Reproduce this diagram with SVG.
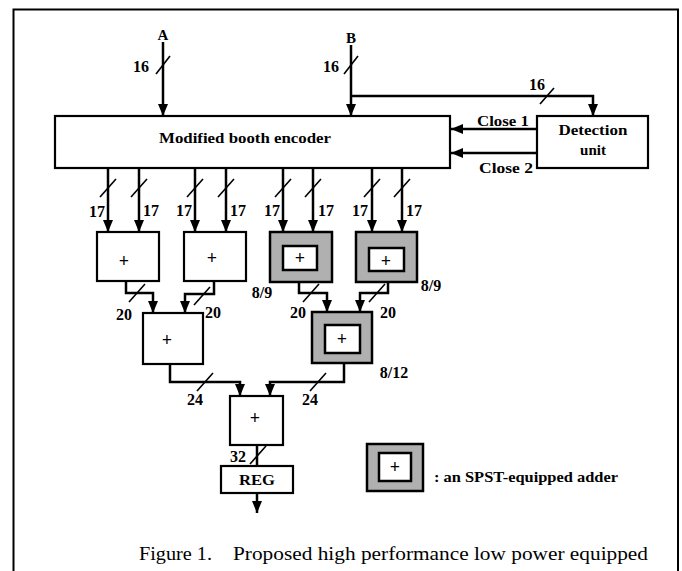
<svg xmlns="http://www.w3.org/2000/svg" width="682" height="571" viewBox="0 0 682 571">
<style>
.box{fill:#fff;stroke:#000;stroke-width:2.2}
.spst{fill:#b0b0b0;stroke:#000;stroke-width:2.5}
.inner{fill:#fff;stroke:#000;stroke-width:2.5}
.w{fill:none;stroke:#000;stroke-width:2.5}
.sl{stroke:#000;stroke-width:1.6}
.t{font-family:"Liberation Serif",serif;font-weight:bold;font-size:15px;fill:#000}
.lb{font-family:"Liberation Serif",serif;font-weight:bold;font-size:16px;fill:#000;text-anchor:middle}
.pl{font-family:"Liberation Serif",serif;font-weight:bold;font-size:18px;fill:#000;text-anchor:middle}
.cap{font-family:"Liberation Serif",serif;font-size:19px;fill:#000}
</style>
<defs>
<marker id="ah" markerUnits="userSpaceOnUse" markerWidth="12" markerHeight="10" refX="12" refY="5" orient="auto" viewBox="0 0 12 10">
<path d="M0,0 L12,5 L0,10 z" fill="#000"/>
</marker>
</defs>
<rect width="682" height="571" fill="#fff"/>
<path d="M13.5,571 V9.5 H678 V571" fill="none" stroke="#000" stroke-width="2"/>

<g id="encoder"><rect class="box" x="55" y="116" width="395" height="52"/>
<text class="t" x="245" y="143" text-anchor="middle" font-size="17" textLength="172" lengthAdjust="spacingAndGlyphs">Modified booth encoder</text></g>
<g id="detection"><rect class="box" x="537" y="116" width="111" height="52"/>
<text class="t" x="593" y="135" text-anchor="middle" textLength="69" lengthAdjust="spacingAndGlyphs">Detection</text>
<text class="t" x="593" y="155" text-anchor="middle">unit</text></g>

<g id="add1"><rect class="box" x="97" y="232" width="62" height="49"/><text class="pl" x="124" y="267">+</text></g>
<g id="add2"><rect class="box" x="184" y="232" width="62" height="49"/><text class="pl" x="212" y="264">+</text></g>
<g id="add3"><rect class="spst" x="270" y="232" width="62" height="50"/><rect class="inner" x="283" y="246" width="34" height="24"/><text class="pl" x="300" y="264">+</text></g>
<g id="add4"><rect class="spst" x="356" y="232" width="61" height="50"/><rect class="inner" x="369" y="248" width="35" height="23"/><text class="pl" x="386" y="267">+</text></g>
<g id="add5"><rect class="box" x="143" y="313" width="60" height="51"/><text class="pl" x="167" y="346">+</text></g>
<g id="add6"><rect class="spst" x="312" y="312" width="60" height="51"/><rect class="inner" x="325" y="325" width="35" height="28"/><text class="pl" x="342" y="345">+</text></g>
<g id="add7"><rect class="box" x="230" y="396" width="53" height="49"/><text class="pl" x="255" y="424">+</text></g>
<g id="reg"><rect class="box" x="221" y="466" width="72" height="27"/><text class="t" x="257" y="485" text-anchor="middle" textLength="36" lengthAdjust="spacingAndGlyphs">REG</text></g>
<g id="legend"><rect class="spst" x="367" y="444" width="56" height="47"/><rect class="inner" x="379" y="453" width="32" height="28"/><text class="pl" x="395" y="473" font-size="15" font-weight="normal">+</text>
<text class="t" x="434" y="482" textLength="184" lengthAdjust="spacingAndGlyphs">: an SPST-equipped adder</text></g>

<g id="connectors">
<path class="w" d="M163,42 V116" marker-end="url(#ah)"/>
<path class="w" d="M351,45 V116" marker-end="url(#ah)"/>
<path class="w" d="M351,96 H593 V116" marker-end="url(#ah)"/>
<path class="w" d="M537,129 H451" marker-end="url(#ah)"/>
<path class="w" d="M537,153 H451" marker-end="url(#ah)"/>
<path class="w" d="M108,168 V232" marker-end="url(#ah)"/>
<path class="w" d="M139,168 V232" marker-end="url(#ah)"/>
<path class="w" d="M195,168 V232" marker-end="url(#ah)"/>
<path class="w" d="M226,168 V232" marker-end="url(#ah)"/>
<path class="w" d="M283,168 V232" marker-end="url(#ah)"/>
<path class="w" d="M313,168 V232" marker-end="url(#ah)"/>
<path class="w" d="M372,168 V232" marker-end="url(#ah)"/>
<path class="w" d="M402,168 V232" marker-end="url(#ah)"/>
<path class="w" d="M126,281 V293 H153 V313" marker-end="url(#ah)"/>
<path class="w" d="M214,281 V294 H185 V313" marker-end="url(#ah)"/>
<path class="w" d="M299,282 V293 H327 V312" marker-end="url(#ah)"/>
<path class="w" d="M388,282 V293 H360 V312" marker-end="url(#ah)"/>
<path class="w" d="M170,364 V382 H240 V396" marker-end="url(#ah)"/>
<path class="w" d="M344,363 V382 H270 V396" marker-end="url(#ah)"/>
<path class="w" d="M257,445 V466"/>
<path class="w" d="M257,493 V513" marker-end="url(#ah)"/>
<g class="sl">
<line x1="156" y1="74" x2="170" y2="56"/>
<line x1="344" y1="74" x2="358" y2="56"/>
<line x1="540" y1="104" x2="554" y2="88"/>
<line x1="100" y1="197" x2="116" y2="179"/>
<line x1="131" y1="197" x2="147" y2="179"/>
<line x1="187" y1="197" x2="203" y2="179"/>
<line x1="218" y1="197" x2="234" y2="179"/>
<line x1="275" y1="197" x2="291" y2="179"/>
<line x1="305" y1="197" x2="321" y2="179"/>
<line x1="364" y1="197" x2="380" y2="179"/>
<line x1="394" y1="197" x2="410" y2="179"/>
<line x1="129" y1="302" x2="145" y2="284"/>
<line x1="194" y1="305" x2="210" y2="287"/>
<line x1="303" y1="302" x2="319" y2="284"/>
<line x1="369" y1="302" x2="385" y2="284"/>
<line x1="197" y1="391" x2="213" y2="373"/>
<line x1="310" y1="391" x2="326" y2="373"/>
<line x1="250" y1="464" x2="266" y2="446"/>
</g>
</g>

<g id="labels">
<text class="t" x="163" y="40" text-anchor="middle" font-size="11">A</text>
<text class="t" x="351" y="43" text-anchor="middle" font-size="12">B</text>
<text class="lb" x="141" y="72">16</text>
<text class="lb" x="331" y="72">16</text>
<text class="lb" x="537" y="90">16</text>
<text class="t" x="503" y="126" text-anchor="middle" textLength="52" lengthAdjust="spacingAndGlyphs">Close 1</text>
<text class="t" x="506" y="173" text-anchor="middle" textLength="54" lengthAdjust="spacingAndGlyphs">Close 2</text>
<text class="lb" x="97" y="217">17</text>
<text class="lb" x="151" y="216">17</text>
<text class="lb" x="184" y="216">17</text>
<text class="lb" x="238" y="216">17</text>
<text class="lb" x="272" y="216">17</text>
<text class="lb" x="326" y="216">17</text>
<text class="lb" x="360" y="216">17</text>
<text class="lb" x="414" y="216">17</text>
<text class="lb" x="262" y="298">8/9</text>
<text class="lb" x="431" y="291">8/9</text>
<text class="lb" x="124" y="320">20</text>
<text class="lb" x="213" y="318">20</text>
<text class="lb" x="298" y="318">20</text>
<text class="lb" x="388" y="318">20</text>
<text class="lb" x="394" y="378">8/12</text>
<text class="lb" x="195" y="405">24</text>
<text class="lb" x="310" y="405">24</text>
<text class="lb" x="238" y="462">32</text>
</g>
<text class="cap" x="139" y="560" textLength="73" lengthAdjust="spacingAndGlyphs">Figure 1.</text>
<text class="cap" x="233" y="560" textLength="415" lengthAdjust="spacingAndGlyphs">Proposed high performance low power equipped</text>
</svg>
